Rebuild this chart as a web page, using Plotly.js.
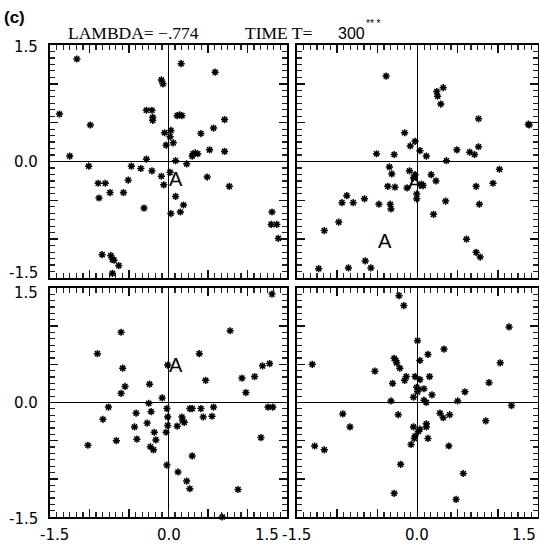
<!DOCTYPE html>
<html>
<head>
<meta charset="utf-8">
<script src="https://cdn.plot.ly/plotly-3.0.1.min.js"></script>
<style>html,body{margin:0;padding:0;background:#fff;}#chart{width:539px;height:546px;}</style>
</head>
<body>
<div id="chart"></div>
<script>
// ---- data ----
var x1 = [-1.16,0.16,0.59,-0.09,-0.07,-1.38,-0.99,-0.28,-0.21,-0.20,-0.20,0.11,0.14,0.17,0.71,0.57,0.41,-0.05,0.03,0.02,0.06,-0.03,0.52,0.71,0.31,0.34,0.37,0.30,0.09,0.23,-1.25,-1.01,-0.28,-0.47,-0.35,-0.21,-0.09,-0.06,0.02,0.49,0.77,-0.89,-0.80,-0.88,-0.74,-0.57,-0.51,-0.31,0.09,0.19,0.15,0.03,-0.84,-0.73,-0.71,-0.69,-0.63,-0.71,1.31,1.30,1.37,1.39];
var y1 = [1.32,1.26,1.15,1.05,1.00,0.61,0.47,0.66,0.66,0.57,0.53,0.59,0.60,0.59,0.54,0.43,0.36,0.37,0.40,0.32,0.24,0.21,0.15,0.13,0.10,0.11,0.10,0.07,0.01,-0.03,0.07,-0.06,0.03,-0.06,-0.09,-0.12,-0.19,-0.30,-0.14,-0.20,-0.32,-0.28,-0.28,-0.47,-0.40,-0.40,-0.24,-0.60,-0.45,-0.56,-0.65,-0.67,-1.20,-1.21,-1.26,-1.27,-1.34,-1.44,-0.65,-0.81,-0.81,-0.99];

var x2 = [-0.39,0.32,0.24,0.25,0.29,0.76,1.38,1.39,-0.16,-0.03,-0.09,0.03,-0.51,-0.29,0.11,0.36,0.49,0.65,0.71,0.76,1.02,0.94,0.73,0.77,-0.35,-0.32,-0.37,-0.28,-0.10,-0.03,-0.05,0.05,0.07,-0.13,-0.01,-0.01,0.17,0.23,0.35,0.20,-0.48,-0.34,-0.33,-0.66,-0.80,-0.88,-0.94,-0.98,-1.16,0.61,0.73,0.78,-0.65,-0.58,-0.86,-1.23];
var y2 = [1.10,0.95,0.90,0.84,0.74,0.55,0.48,0.47,0.37,0.26,0.20,0.14,0.10,0.09,0.07,0.01,0.15,0.12,0.09,0.19,-0.10,-0.28,-0.32,-0.55,-0.07,-0.16,-0.32,-0.33,-0.12,-0.17,-0.21,-0.29,-0.31,-0.34,-0.42,-0.48,-0.17,-0.25,-0.51,-0.68,-0.55,-0.55,-0.61,-0.48,-0.53,-0.44,-0.53,-0.78,-0.89,-1.00,-1.17,-1.23,-1.28,-1.37,-1.37,-1.38];

var x3 = [1.31,-0.60,0.78,-0.90,0.39,-0.58,-0.01,0.47,0.93,1.09,1.19,1.28,0.98,-0.24,-0.55,-0.60,-0.08,-0.76,-0.83,-1.02,-0.66,-0.41,-0.43,-0.40,-0.25,-0.22,-0.27,-0.18,-0.16,-0.23,-0.19,-0.02,-0.01,-0.01,-0.03,-0.02,0.11,0.17,0.18,0.20,0.27,0.30,0.41,0.44,0.55,0.57,0.30,0.12,0.23,0.27,0.88,1.17,1.26,1.32,0.68,-0.76];
var y3 = [1.42,0.92,0.94,0.64,0.64,0.45,0.49,0.29,0.32,0.34,0.48,0.51,0.13,0.24,0.21,0.12,0.06,-0.06,-0.22,-0.56,-0.50,-0.14,-0.32,-0.48,-0.01,-0.12,-0.27,-0.39,-0.49,-0.58,-0.62,-0.08,-0.19,-0.30,-0.39,-0.82,-0.31,-0.19,-0.24,-0.26,-0.08,-0.08,-0.08,-0.19,-0.18,-0.06,-0.70,-0.91,-1.03,-1.13,-1.14,-0.46,-0.06,-0.06,-1.50,-1.69];

var x4 = [-0.23,-0.17,1.14,0.00,0.33,0.13,0.03,-0.29,-0.27,-0.26,-1.31,-0.53,-0.22,-0.03,-0.16,-0.14,1.03,0.15,0.03,-0.31,0.89,-0.01,0.01,0.00,0.08,-0.05,0.18,0.59,0.50,0.08,0.11,-0.33,1.17,-0.93,-0.24,0.28,0.32,0.40,0.85,-0.84,0.11,0.11,0.03,0.01,-0.03,-0.04,-0.08,-0.05,0.13,0.39,-1.28,-1.16,-0.21,0.57,-0.29,0.48,-0.74];
var y4 = [1.40,1.27,0.99,0.81,0.70,0.63,0.55,0.58,0.55,0.52,0.50,0.41,0.45,0.34,0.29,0.34,0.52,0.34,0.30,0.25,0.26,0.20,0.17,0.14,0.18,0.07,0.10,0.14,0.02,0.03,0.00,0.02,-0.04,-0.15,-0.16,-0.14,-0.20,-0.16,-0.24,-0.32,-0.28,-0.32,-0.35,-0.38,-0.44,-0.47,-0.55,-0.32,-0.47,-0.57,-0.57,-0.62,-0.81,-0.93,-1.19,-1.27,-1.55];

// "A" labels per panel
var labelPanel = [1, 2, 2, 3];
var labelX = [0.09, -0.03, -0.40, 0.09];
var labelY = [-0.23, -0.26, -1.02, 0.49];
var labelText = ['A', 'A', 'A', 'A'];

// ticks
var tickLabelVals = [-1.5, 0.0, 1.5];
var tickLabelText = ['-1.5', '0.0', '1.5'];

var titleLambda = 'LAMBDA= \u2212.774';
var titleTime = 'TIME T=';
var titleT = '300';
var panelTag = '(c)';

// ---- layout helpers ----
var W = 539, H = 546;
function px(v) { return v / W; }
function py(v) { return 1 - v / H; }

var colL = [px(50), px(287)];
var colR = [px(297), px(538)];
var rowT = [py(278), py(45)];
var rowB = [py(517), py(288)];

var tickFont = {family: 'DejaVu Sans, Liberation Sans, sans-serif', size: 15, color: '#000'};

function axis(domain, anchor) {
  return {
    domain: domain, anchor: anchor, range: [-1.5, 1.5],
    showline: true, linecolor: '#000', linewidth: 1.6, mirror: 'allticks',
    ticks: 'inside', ticklen: 8, tickwidth: 1.5, tickcolor: '#111',
    tickmode: 'linear', tick0: -1.5, dtick: 0.5,
    showticklabels: false, layer: 'above traces',
    zeroline: true, zerolinecolor: '#000', zerolinewidth: 1,
    showgrid: false, fixedrange: true,
    minor: {tickmode: 'linear', tick0: -1.5, dtick: 1/12, ticks: 'inside', ticklen: 5, tickwidth: 1.2, tickcolor: '#222', showgrid: false}
  };
}

var marker = {symbol: 'asterisk-open', size: 6, color: '#000', line: {color: '#000', width: 1.5}};
function tr(x, y, xa, ya) {
  return {type: 'scatter', mode: 'markers', x: x, y: y, xaxis: xa, yaxis: ya, marker: marker, cliponaxis: false, hoverinfo: 'skip', showlegend: false};
}

var data = [tr(x1, y1, 'x', 'y'), tr(x2, y2, 'x2', 'y2'), tr(x3, y3, 'x3', 'y3'), tr(x4, y4, 'x4', 'y4')];

var annotations = [];
var refs = {1: ['x', 'y'], 2: ['x2', 'y2'], 3: ['x3', 'y3'], 4: ['x4', 'y4']};
for (var i = 0; i < labelX.length; i++) {
  var r = refs[labelPanel[i]];
  annotations.push({xref: r[0], yref: r[1], x: labelX[i], y: labelY[i], text: labelText[i], showarrow: false,
    font: {family: 'Liberation Sans, Arial, sans-serif', size: 20, color: '#000'}, xanchor: 'center', yanchor: 'middle'});
}
// bottom x tick labels
['x3', 'x4'].forEach(function (xr, k) {
  for (var j = 0; j < tickLabelVals.length; j++) {
    var anchor = j === 2 ? 'right' : 'center';
    var shift = 0;
    if (k === 0 && j === 0) shift = 5;
    if (k === 0 && j === 2) shift = -6;
    annotations.push({xref: xr, yref: 'paper', x: tickLabelVals[j], y: py(535), text: tickLabelText[j], showarrow: false,
      xanchor: anchor, yanchor: 'middle', xshift: shift, font: tickFont});
  }
});
// left y tick labels
['y', 'y3'].forEach(function (yr, k) {
  for (var j = 0; j < tickLabelVals.length; j++) {
    var shift = 0;
    if (j === 0) shift = k === 0 ? 5 : -2;
    if (j === 2) shift = k === 0 ? -2 : -5;
    annotations.push({xref: 'paper', yref: yr, x: px(40), y: tickLabelVals[j], text: tickLabelText[j], showarrow: false,
      xanchor: 'right', yanchor: 'middle', yshift: shift, font: tickFont});
  }
});
// header texts
annotations.push({xref: 'paper', yref: 'paper', x: px(2), y: py(17), text: '<b>' + panelTag + '</b>', showarrow: false,
  xanchor: 'left', yanchor: 'middle', font: {family: 'Liberation Sans, Arial, sans-serif', size: 17, color: '#000'}});
annotations.push({xref: 'paper', yref: 'paper', x: px(66), y: py(33), text: titleLambda, showarrow: false,
  xanchor: 'left', yanchor: 'middle', font: {family: 'Liberation Serif, Times New Roman, serif', size: 17.5, color: '#000'}});
annotations.push({xref: 'paper', yref: 'paper', x: px(243), y: py(33), text: titleTime, showarrow: false,
  xanchor: 'left', yanchor: 'middle', font: {family: 'Liberation Serif, Times New Roman, serif', size: 17.5, color: '#000'}});
annotations.push({xref: 'paper', yref: 'paper', x: px(336), y: py(33), text: titleT, showarrow: false,
  xanchor: 'left', yanchor: 'middle', font: {family: 'Liberation Sans, Arial, sans-serif', size: 16, color: '#000'}});
annotations.push({xref: 'paper', yref: 'paper', x: px(364), y: py(24), text: '** *', showarrow: false,
  xanchor: 'left', yanchor: 'middle', font: {family: 'Liberation Sans, Arial, sans-serif', size: 10, color: '#000'}});

var layout = {
  width: W, height: H, margin: {l: 0, r: 0, t: 0, b: 0},
  paper_bgcolor: '#fff', plot_bgcolor: '#fff', showlegend: false,
  xaxis: axis(colL, 'y'), yaxis: axis(rowT, 'x'),
  xaxis2: axis(colR, 'y2'), yaxis2: axis(rowT, 'x2'),
  xaxis3: axis(colL, 'y3'), yaxis3: axis(rowB, 'x3'),
  xaxis4: axis(colR, 'y4'), yaxis4: axis(rowB, 'x4'),
  annotations: annotations
};

Plotly.newPlot('chart', data, layout, {staticPlot: true, displayModeBar: false});
</script>
</body>
</html>
